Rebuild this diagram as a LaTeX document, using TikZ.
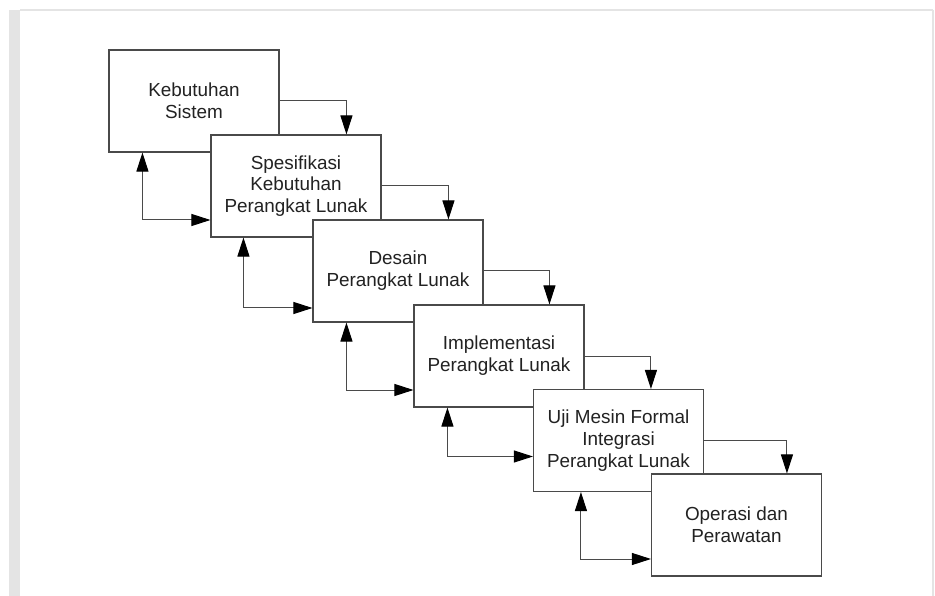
\documentclass[tikz,border=0pt]{standalone}
\usepackage{fontspec}
\setmainfont{Liberation Sans}
\usetikzlibrary{arrows.meta}
\definecolor{boxline}{HTML}{4A4A4A}
\definecolor{txt}{HTML}{222222}
\definecolor{frame}{HTML}{E4E4E4}
\begin{document}
\begin{tikzpicture}[x=1pt,y=-1pt,
  stage/.style={draw=boxline, line width=1.1pt, fill=white, minimum width=170pt, minimum height=102pt,
    inner sep=0pt, align=center, text=txt, font=\fontsize{18.9}{21.8}\selectfont},
  tip/.tip={Triangle[length=19pt,width=12pt,color=black]},
  fwd/.style={draw=boxline, line width=1pt, -tip},
  bwd/.style={draw=boxline, line width=1pt, tip-tip}]
\useasboundingbox (0,0) rectangle (935,596);
\fill[white] (0,0) rectangle (935,596);
% page frame
\fill[frame] (9,10) rectangle (20,596);
\draw[frame, line width=1.5pt] (20,10) -- (933,10);
\draw[frame, line width=1.5pt] (933,10) -- (933,596);
% stages
\node[stage] (b1) at (194,101) {Kebutuhan\\Sistem};
\node[stage] (b2) at (296,186) {Spesifikasi\\Kebutuhan\\Perangkat Lunak};
\node[stage] (b3) at (398,271) {Desain\\Perangkat Lunak};
\node[stage] (b4) at (499,356) {Implementasi\\Perangkat Lunak};
\node[stage] (b5) at (618.5,440.5) {Uji Mesin Formal\\Integrasi\\Perangkat Lunak};
\node[stage] (b6) at (736.5,525) {Operasi dan\\Perawatan};
% forward arrows
\draw[fwd] (b1.east) -| ([xshift=136pt]b2.north west);
\draw[fwd] (b2.east) -| ([xshift=136pt]b3.north west);
\draw[fwd] (b3.east) -| ([xshift=136pt]b4.north west);
\draw[fwd] (b4.east) -| ([xshift=118pt]b5.north west);
\draw[fwd] (b5.east) -| ([xshift=136pt]b6.north west);
% feedback arrows
\draw[bwd] ([yshift=-34pt]b2.west) -| ([xshift=34pt]b1.south west);
\draw[bwd] ([yshift=-37pt]b3.west) -| ([xshift=33pt]b2.south west);
\draw[bwd] ([yshift=-34pt]b4.west) -| ([xshift=34pt]b3.south west);
\draw[bwd] ([yshift=-16pt]b5.west) -| ([xshift=34pt]b4.south west);
\draw[bwd] ([yshift=-34pt]b6.west) -| ([xshift=48pt]b5.south west);
\end{tikzpicture}
\end{document}
